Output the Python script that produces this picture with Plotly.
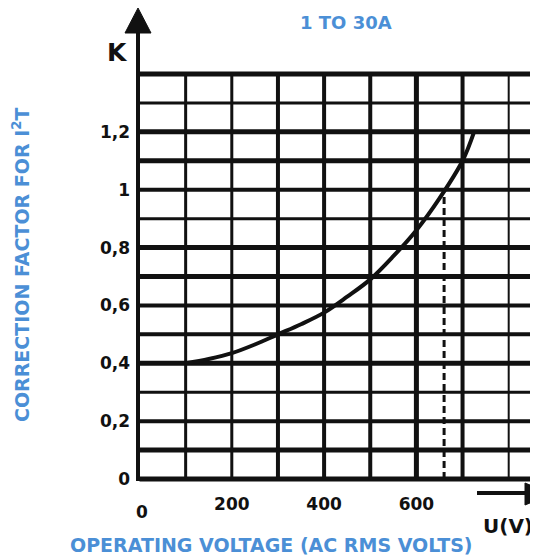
import plotly.graph_objects as go

# ---- data ----
voltage = [100, 150, 200, 250, 300, 350, 400, 450, 500, 550, 600, 650, 700, 725]
k_factor = [0.40, 0.415, 0.435, 0.465, 0.50, 0.535, 0.575, 0.63, 0.69, 0.77, 0.86, 0.97, 1.10, 1.20]

y_tick_vals = [0, 0.2, 0.4, 0.6, 0.8, 1.0, 1.2]
y_tick_text = ["0", "0,2", "0,4", "0,6", "0,8", "1", "1,2"]
x_tick_vals = [200, 400, 600]
x_tick_text = ["200", "400", "600"]

h_grid = [0, 0.1, 0.2, 0.3, 0.4, 0.5, 0.6, 0.7, 0.8, 0.9, 1.0, 1.1, 1.2, 1.3, 1.4]
v_grid = [100, 200, 300, 400, 500, 600, 700, 800]
limit_voltage = 660
limit_k = 0.98

# ---- styles ----
h_grid_w = [5, 5, 4, 3, 5, 4, 4, 5, 5, 3, 4, 5, 5, 3, 5]
v_grid_w = [3, 3, 4, 4, 4, 5, 4, 2]
BLUE = "#4b8fd6"
INK = "#111111"

# the page body adds an 8px margin; work in window pixels and subtract it
OFF = 8
WIN_W, WIN_H = 538, 556
W, H = WIN_W - OFF, WIN_H - OFF

# geometry in window pixels
x0_px, px_per_v = 139.5, 0.4615
y0_px, px_per_k = 479.0, 289.3
plot_left, plot_right, plot_top, plot_bottom = 134, 538, 69, 484

ml = plot_left - OFF
mt = plot_top - OFF
mr = WIN_W - plot_right
mb = WIN_H - plot_bottom
plot_w = plot_right - plot_left
plot_h = plot_bottom - plot_top
x_range = [(plot_left - x0_px) / px_per_v, (plot_right - x0_px) / px_per_v]
y_range = [(y0_px - plot_bottom) / px_per_k, (y0_px - plot_top) / px_per_k]


def px_to_paper(px, py):
    return (px - plot_left) / plot_w, (plot_bottom - py) / plot_h


fig = go.Figure()

fig.add_trace(go.Scatter(
    x=voltage, y=k_factor, mode="lines",
    line=dict(color=INK, width=4, shape="spline", smoothing=1.0),
    hoverinfo="skip", showlegend=False,
))

shapes = []
for yv, w in zip(h_grid, h_grid_w):
    shapes.append(dict(type="line", xref="x", yref="y", x0=0, x1=x_range[1],
                       y0=yv, y1=yv, line=dict(color=INK, width=w), layer="below"))
for xv, w in zip(v_grid, v_grid_w):
    shapes.append(dict(type="line", xref="x", yref="y", x0=xv, x1=xv,
                       y0=0, y1=1.4, line=dict(color=INK, width=w), layer="below"))
# dashed limit line
shapes.append(dict(type="line", xref="x", yref="y", x0=limit_voltage, x1=limit_voltage,
                   y0=0, y1=limit_k, line=dict(color=INK, width=3, dash="7px,4px"), layer="below"))

# vertical axis with arrow
ax_x, _ = px_to_paper(138, 0)
_, y_top = px_to_paper(0, 30)
_, y_bot = px_to_paper(0, 481)
shapes.append(dict(type="line", xref="paper", yref="paper", x0=ax_x, x1=ax_x,
                   y0=y_bot, y1=y_top, line=dict(color=INK, width=4)))
tl = px_to_paper(125, 33)
tr = px_to_paper(151, 33)
tt = px_to_paper(138, 8)
shapes.append(dict(type="path", xref="paper", yref="paper",
                   path=f"M {tl[0]} {tl[1]} L {tt[0]} {tt[1]} L {tr[0]} {tr[1]} Z",
                   fillcolor=INK, line=dict(color=INK, width=1)))

# horizontal arrow (U axis)
a0 = px_to_paper(477, 493)
a1 = px_to_paper(528, 493)
shapes.append(dict(type="line", xref="paper", yref="paper", x0=a0[0], x1=a1[0],
                   y0=a0[1], y1=a1[1], line=dict(color=INK, width=4)))
hl = px_to_paper(525, 483)
hb = px_to_paper(525, 505)
ht = px_to_paper(552, 494)
shapes.append(dict(type="path", xref="paper", yref="paper",
                   path=f"M {hl[0]} {hl[1]} L {ht[0]} {ht[1]} L {hb[0]} {hb[1]} Z",
                   fillcolor=INK, line=dict(color=INK, width=1)))

annotations = []
z_pos = px_to_paper(142, 512)
annotations.append(dict(x=z_pos[0], y=z_pos[1], xref="paper", yref="paper", text="0",
                        showarrow=False, xanchor="center", yanchor="middle",
                        font=dict(family="DejaVu Sans", size=17, color=INK, weight="bold")))
k_pos = px_to_paper(117, 52)
annotations.append(dict(x=k_pos[0], y=k_pos[1], xref="paper", yref="paper", text="K",
                        showarrow=False, xanchor="center", yanchor="middle",
                        font=dict(family="DejaVu Sans", size=25, color=INK, weight="bold")))
u_pos = px_to_paper(508, 526)
annotations.append(dict(x=u_pos[0], y=u_pos[1], xref="paper", yref="paper", text="U(V)",
                        showarrow=False, xanchor="center", yanchor="middle",
                        font=dict(family="DejaVu Sans", size=20, color=INK, weight="bold")))
t_pos = px_to_paper(346, 22)
annotations.append(dict(x=t_pos[0], y=t_pos[1], xref="paper", yref="paper", text="1 TO 30A",
                        showarrow=False, xanchor="center", yanchor="middle",
                        font=dict(family="DejaVu Sans", size=18, color=BLUE, weight="bold")))
xt_pos = px_to_paper(271, 545)
annotations.append(dict(x=xt_pos[0], y=xt_pos[1], xref="paper", yref="paper",
                        text="OPERATING VOLTAGE (AC RMS VOLTS)",
                        showarrow=False, xanchor="center", yanchor="middle",
                        font=dict(family="DejaVu Sans", size=19, color=BLUE, weight="bold")))
yt_pos = px_to_paper(21, 265)
annotations.append(dict(x=yt_pos[0], y=yt_pos[1], xref="paper", yref="paper",
                        text="CORRECTION FACTOR FOR I<sup>2</sup>T", textangle=-90,
                        showarrow=False, xanchor="center", yanchor="middle",
                        font=dict(family="DejaVu Sans", size=19, color=BLUE, weight="bold")))

fig.update_layout(
    width=W, height=H,
    margin=dict(l=ml, r=mr, t=mt, b=mb, pad=0),
    paper_bgcolor="white", plot_bgcolor="white",
    shapes=shapes, annotations=annotations, showlegend=False,
    xaxis=dict(range=x_range, showgrid=False, zeroline=False, showline=False,
               tickvals=x_tick_vals, ticktext=x_tick_text, ticks="",
               ticklabelstandoff=8,
               tickfont=dict(family="DejaVu Sans", size=17, color=INK, weight="bold"),
               fixedrange=True),
    yaxis=dict(range=y_range, showgrid=False, zeroline=False, showline=False,
               tickvals=y_tick_vals, ticktext=y_tick_text, ticks="",
               ticklabelstandoff=3,
               tickfont=dict(family="DejaVu Sans", size=17, color=INK, weight="bold"),
               fixedrange=True),
)

fig.write_html("out.html")
